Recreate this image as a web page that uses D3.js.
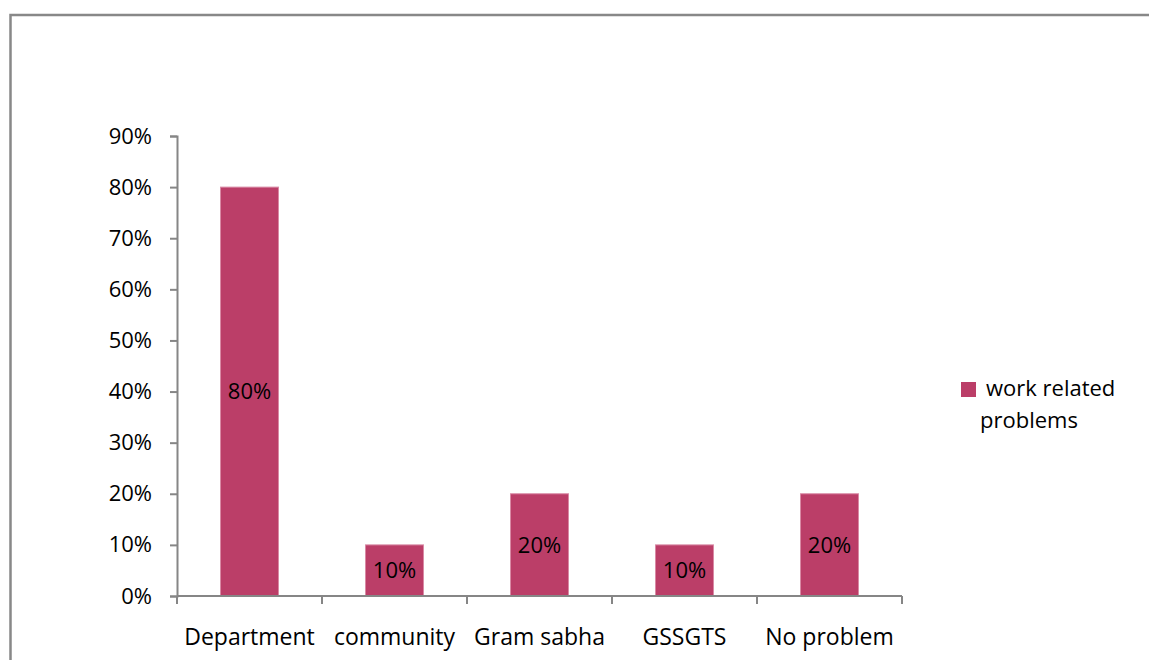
<!DOCTYPE html>
<html>
<head>
<meta charset="utf-8">
<script src="https://cdn.jsdelivr.net/npm/d3@7"></script>
<style>
  html, body { margin: 0; padding: 0; background: #fff; }
  svg { display: block; }
  text { font-family: "Open Sans", "Noto Sans", sans-serif; fill: #000; }
</style>
</head>
<body>
<svg id="chart" width="1149" height="660"></svg>
<script>
// Responses on work related problems
const categories = ["Department", "community", "Gram sabha", "GSSGTS", "No problem"];
const values = [0.80, 0.10, 0.20, 0.10, 0.20];
const valueLabels = ["80%", "10%", "20%", "10%", "20%"];
const yTicks = [0, 0.1, 0.2, 0.3, 0.4, 0.5, 0.6, 0.7, 0.8, 0.9];
const seriesName = ["work related", "problems"];

const svg = d3.select("#chart");
const barColor = "#bb3e68";
const axisColor = "#868686";
const fontSize = 23;

// outer chart frame
svg.append("rect")
  .attr("x", 10.5).attr("y", 15).attr("width", 1160).attr("height", 700)
  .attr("fill", "none").attr("stroke", "#888").attr("stroke-width", 2.5);

const plot = { left: 177, right: 902, top: 136, bottom: 596 };

const x = d3.scaleBand()
  .domain(categories)
  .range([plot.left, plot.right])
  .paddingInner(0.6).paddingOuter(0.3);

// band boundaries used for the category tick marks
const xOuter = d3.scaleBand().domain(categories).range([plot.left, plot.right]);

const y = d3.scaleLinear().domain([0, 0.9]).range([plot.bottom, plot.top]);

// bars
svg.append("g").selectAll("rect")
  .data(values)
  .join("rect")
  .attr("x", (d, i) => x(categories[i]))
  .attr("width", x.bandwidth())
  .attr("y", d => y(d))
  .attr("height", d => y(0) - y(d))
  .attr("fill", barColor)
  .attr("stroke", "#d98aa5")
  .attr("stroke-width", 1);

// value labels centred inside each bar
svg.append("g").selectAll("text")
  .data(values)
  .join("text")
  .attr("x", (d, i) => x(categories[i]) + x.bandwidth() / 2)
  .attr("y", d => (y(d) + y(0)) / 2)
  .attr("dy", "0.36em")
  .attr("text-anchor", "middle")
  .attr("font-size", fontSize - 1)
  .text((d, i) => valueLabels[i]);

// y axis
const yAxis = d3.axisLeft(y)
  .tickValues(yTicks)
  .tickFormat(d3.format(".0%"))
  .tickSizeOuter(0)
  .tickSize(7)
  .tickPadding(18);
const gy = svg.append("g").attr("transform", `translate(${plot.left},0)`).call(yAxis);
gy.selectAll("path, line").attr("stroke", axisColor).attr("stroke-width", 2);
gy.selectAll("text").attr("font-size", fontSize - 1).attr("font-family", "\"Open Sans\", sans-serif").attr("fill", "#000");

// x axis with tick marks at category boundaries
const boundaries = categories.map(c => xOuter(c)).concat([plot.right]);
const gx = svg.append("g");
gx.append("line")
  .attr("x1", plot.left).attr("x2", plot.right)
  .attr("y1", plot.bottom).attr("y2", plot.bottom)
  .attr("stroke", axisColor).attr("stroke-width", 2);
gx.selectAll("line.tick")
  .data(boundaries)
  .join("line")
  .attr("class", "tick")
  .attr("x1", d => d).attr("x2", d => d)
  .attr("y1", plot.bottom).attr("y2", plot.bottom + 8)
  .attr("stroke", axisColor).attr("stroke-width", 2);
gx.selectAll("text")
  .data(categories)
  .join("text")
  .attr("x", d => xOuter(d) + xOuter.bandwidth() / 2)
  .attr("y", 645)
  .attr("text-anchor", "middle")
  .attr("font-size", fontSize)
  .text(d => d);

// legend
const lg = svg.append("g");
lg.append("rect")
  .attr("x", 961).attr("y", 382).attr("width", 15).attr("height", 15)
  .attr("fill", barColor);
lg.append("text").attr("x", 986).attr("y", 396).attr("font-size", fontSize - 1).text(seriesName[0]);
lg.append("text").attr("x", 980).attr("y", 428).attr("font-size", fontSize - 1).text(seriesName[1]);
</script>
</body>
</html>
